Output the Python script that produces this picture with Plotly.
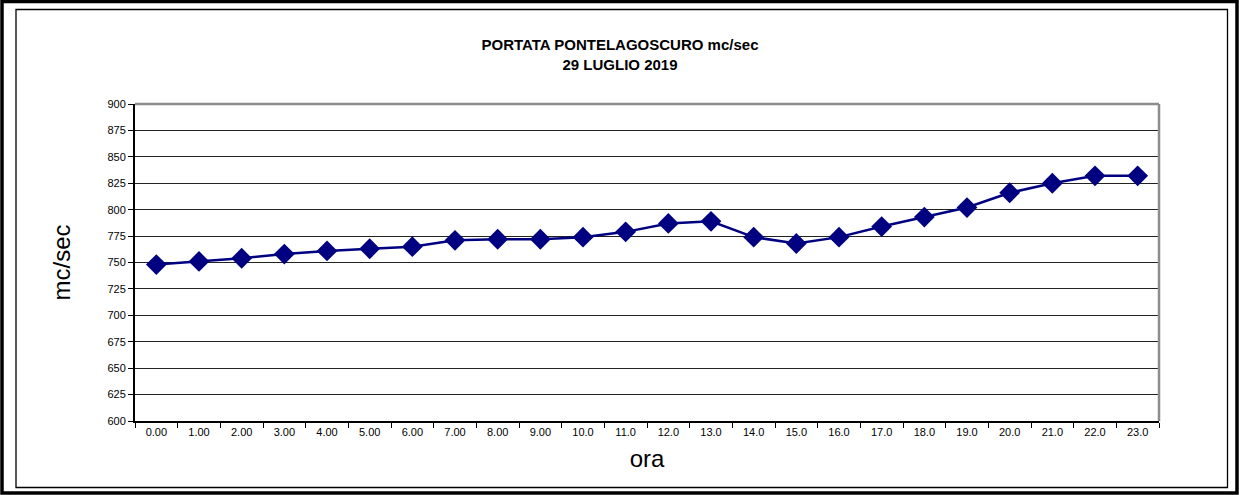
import plotly.graph_objects as go

hours = list(range(24))
hour_labels = ["0.00", "1.00", "2.00", "3.00", "4.00", "5.00", "6.00", "7.00", "8.00", "9.00",
               "10.0", "11.0", "12.0", "13.0", "14.0", "15.0", "16.0", "17.0", "18.0", "19.0",
               "20.0", "21.0", "22.0", "23.0"]
portata = [748, 751, 754, 758, 761, 763, 765, 771, 772, 772, 774, 779,
           787, 789, 774, 768, 774, 784, 793, 802, 816, 825, 832, 832]
y_ticks = list(range(600, 901, 25))

W, H = 1239, 495
L, R, T, B = 135, 1159, 104, 421

def px(x):
    return (x - L) / (R - L)

def py(y):
    return (B - y) / (B - T)

fig = go.Figure()
fig.add_trace(go.Scatter(
    x=hours, y=portata, mode="lines+markers",
    line=dict(color="#000080", width=2.5),
    marker=dict(symbol="diamond", size=16, color="#000080"),
    cliponaxis=False, showlegend=False,
))

fig.update_layout(
    width=W, height=H,
    margin=dict(l=L, r=W - R, t=T, b=H - B),
    paper_bgcolor="white", plot_bgcolor="white",
    font=dict(family="Liberation Sans, Arial, sans-serif", color="black"),
    title=dict(
        text="<b>PORTATA PONTELAGOSCURO mc/sec</b><br><b>29 LUGLIO 2019</b>",
        x=px(620), xref="paper", xanchor="center",
        y=1 - 50 / H, yref="container", yanchor="middle",
        font=dict(size=15, color="black"),
    ),
    xaxis=dict(
        range=[-0.5, 23.5], tickvals=hours, ticktext=hour_labels,
        ticks="", showgrid=False, zeroline=False,
        tickfont=dict(size=11),
        showline=True, linecolor="black", linewidth=2,
        minor=dict(ticks="outside", tick0=0.5, dtick=1, ticklen=5,
                   tickcolor="black", tickwidth=1, showgrid=False),
        title=dict(text="ora", font=dict(size=24), standoff=13),
        fixedrange=True,
    ),
    yaxis=dict(
        range=[600, 900], tickvals=y_ticks, ticks="outside", ticklen=5,
        tickcolor="black", tickfont=dict(size=11),
        showgrid=True, gridcolor="#222222", gridwidth=1, zeroline=False,
        showline=True, linecolor="black", linewidth=2,
        title=dict(text="mc/sec", font=dict(size=24), standoff=30),
        fixedrange=True,
    ),
    shapes=[
        dict(type="line", xref="paper", yref="paper", x0=0, x1=1, y0=1, y1=1,
             line=dict(color="#8c8c8c", width=2.5)),
        dict(type="line", xref="paper", yref="paper", x0=1, x1=1, y0=0, y1=1,
             line=dict(color="#8c8c8c", width=2.5)),
        dict(type="rect", xref="paper", yref="paper",
             x0=px(16), x1=px(1227.5), y0=py(9.5), y1=py(487.5),
             line=dict(color="black", width=1.3)),
        dict(type="rect", xref="paper", yref="paper",
             x0=px(2), x1=px(1237), y0=py(1.5), y1=py(493),
             line=dict(color="black", width=3.5)),
    ],
)

fig.write_html("out.html",
               config={"displayModeBar": False},
               post_script="document.body.style.margin='0px';document.body.style.overflow='hidden';")
